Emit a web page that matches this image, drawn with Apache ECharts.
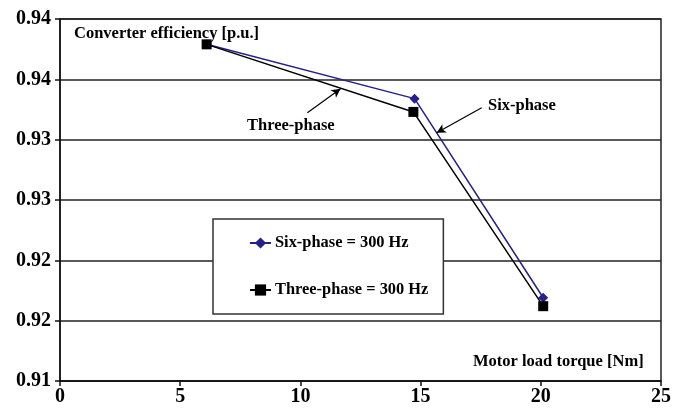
<!DOCTYPE html>
<html>
<head>
<meta charset="utf-8">
<script src="https://cdn.jsdelivr.net/npm/echarts@6/dist/echarts.min.js"></script>
<style>html,body{margin:0;padding:0;background:#fff}#c{width:681px;height:409px}</style>
</head>
<body>
<div id="c"></div>
<script>
var seriesNames = ['Six-phase = 300 Hz', 'Three-phase = 300 Hz'];
var sixPhase = [[6.1, 0.9379], [14.75, 0.9334], [20.1, 0.9169]];
var threePhase = [[6.1, 0.9379], [14.7, 0.9323], [20.1, 0.9162]];
var yTickLabels = ['0.91', '0.92', '0.92', '0.93', '0.93', '0.94', '0.94'];
var xTickLabels = ['0', '5', '10', '15', '20', '25'];
var arrowThree = [[10.29, 0.93223], [11.67, 0.93422]];
var arrowSix = [[17.54, 0.93265], [15.67, 0.93057]];

var FONT = '"Liberation Serif", "Times New Roman", serif';
var chart = echarts.init(document.getElementById('c'), null, {renderer: 'canvas'});
function arrowLine(pts) {
  return {
    silent: true,
    symbol: ['none', 'arrow'],
    symbolSize: [7, 9],
    label: {show: false},
    lineStyle: {color: '#000', width: 1.2, type: 'solid'},
    data: [[{coord: pts[0]}, {coord: pts[1]}]]
  };
}
chart.setOption({
  animation: false,
  backgroundColor: '#fff',
  grid: {left: 60, right: 20, top: 19, bottom: 28, show: true, borderColor: '#222', borderWidth: 1.5, backgroundColor: 'transparent'},
  xAxis: {
    type: 'value', min: 0, max: 25, interval: 5,
    axisLine: {show: true, lineStyle: {color: '#111', width: 1.5}},
    axisTick: {show: true, inside: false, length: 5, lineStyle: {color: '#111', width: 1.5}},
    splitLine: {show: false},
    axisLabel: {
      margin: 6, color: '#000', fontFamily: FONT, fontWeight: 'bold', fontSize: 20,
      formatter: function (v) { return xTickLabels[Math.round(v / 5)]; }
    }
  },
  yAxis: {
    type: 'value', min: 0.91, max: 0.94, interval: 0.005,
    axisLine: {show: true, lineStyle: {color: '#111', width: 1.5}},
    axisTick: {show: true, inside: false, length: 5, lineStyle: {color: '#111', width: 1.5}},
    splitLine: {show: true, lineStyle: {color: '#222', width: 1.5}},
    axisLabel: {
      margin: 9, color: '#000', fontFamily: FONT, fontWeight: 'bold', fontSize: 20,
      formatter: function (v) { return yTickLabels[Math.round((v - 0.91) / 0.005)]; }
    }
  },
  legend: {
    left: 213, top: 219, orient: 'vertical',
    backgroundColor: '#fff', borderColor: '#333', borderWidth: 1.5,
    padding: [16, 15, 16, 36], itemGap: 31, itemWidth: 21, itemHeight: 14,
    textStyle: {fontFamily: FONT, fontWeight: 'bold', fontSize: 16.4, color: '#000', padding: [0, 0, 0, -1]},
    data: seriesNames
  },
  series: [
    {
      name: seriesNames[0], type: 'line', data: sixPhase,
      symbol: 'diamond', symbolSize: 10,
      itemStyle: {color: '#26208c'}, lineStyle: {color: '#26208c', width: 1.5},
      z: 3,
      markLine: arrowLine(arrowSix)
    },
    {
      name: seriesNames[1], type: 'line', data: threePhase,
      symbol: 'rect', symbolSize: 10,
      itemStyle: {color: '#000'}, lineStyle: {color: '#000', width: 1.5},
      z: 4,
      markLine: arrowLine(arrowThree)
    }
  ],
  graphic: [
    {type: 'text', left: 74, top: 25, style: {text: 'Converter efficiency [p.u.]', font: 'bold 16.5px ' + FONT, fill: '#000'}},
    {type: 'text', left: 247, top: 117, style: {text: 'Three-phase', font: 'bold 16.5px ' + FONT, fill: '#000'}},
    {type: 'text', left: 488, top: 97, style: {text: 'Six-phase', font: 'bold 16.5px ' + FONT, fill: '#000'}},
    {type: 'text', left: 473, top: 353, style: {text: 'Motor load torque [Nm]', font: 'bold 16.5px ' + FONT, fill: '#000'}}
  ]
});
</script>
</body>
</html>
